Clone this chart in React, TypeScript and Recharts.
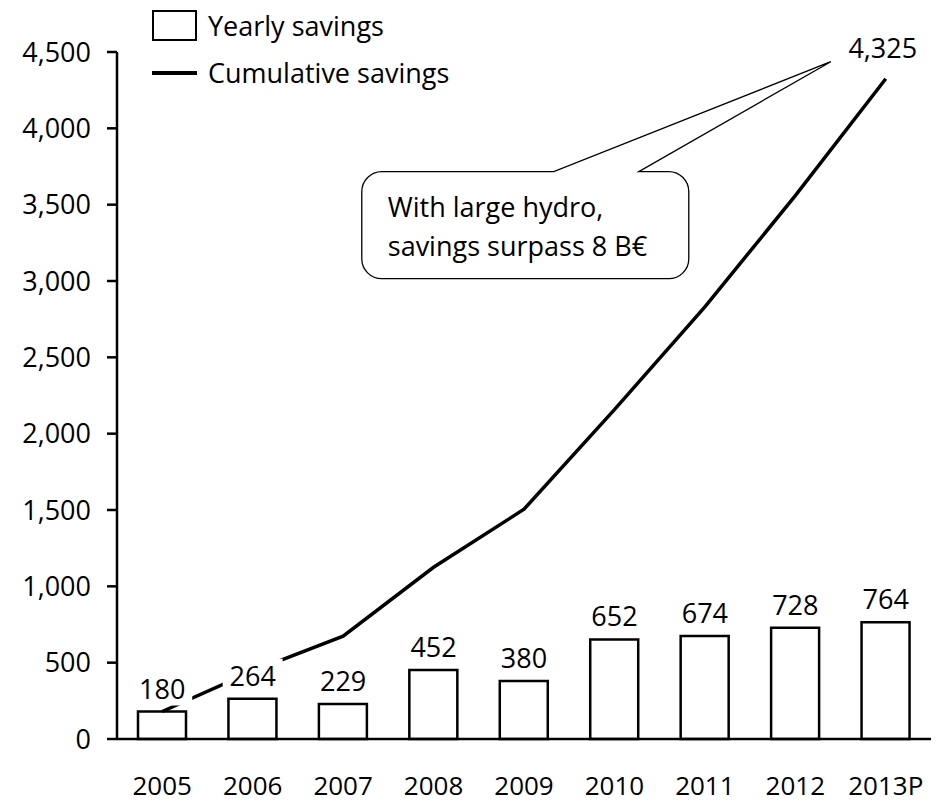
import { ComposedChart, Bar, Line, XAxis, YAxis, Legend, ReferenceDot } from "recharts";

const YEARS = ["2005", "2006", "2007", "2008", "2009", "2010", "2011", "2012", "2013P"];
const YEARLY_SAVINGS = [180, 264, 229, 452, 380, 652, 674, 728, 764];
const CUMULATIVE_SAVINGS = [180, 444, 673, 1125, 1505, 2157, 2831, 3559, 4325];
const Y_TICKS = [0, 500, 1000, 1500, 2000, 2500, 3000, 3500, 4000, 4500];
const CALLOUT_LINES = ["With large hydro,", "savings surpass 8 B€"];

const FONT = "'Open Sans', sans-serif";
const FONT_SIZE = 27;
const INK = "#000";

const data = YEARS.map((year, i) => ({
  year,
  yearly: YEARLY_SAVINGS[i],
  cumulative: CUMULATIVE_SAVINGS[i],
}));

const fmt = (v: number) => v.toLocaleString("en-US");

// value labels above the bars, on a white box so the line goes behind them
const renderBarLabel = (p: any) => {
  const { cx, cy, index, payload } = p;
  if (cx == null || cy == null) return <g key={`bl-${index}`} />;
  return (
    <g key={`bl-${index}`}>
      <rect x={cx - 30} y={cy - 40} width={60} height={34} fill="#fff" />
      <text
        x={cx}
        y={cy - 13}
        textAnchor="middle"
        fontFamily={FONT}
        fontSize={FONT_SIZE}
        fill={INK}
      >
        {fmt(payload.yearly)}
      </text>
    </g>
  );
};

// end-of-line value plus the rounded speech bubble pointing at it
const renderCallout = (p: any) => {
  const { cx, cy } = p;
  const L = cx - 524;
  const R = cx - 197;
  const T = cy + 93;
  const B = cy + 200;
  const r = 20;
  const tipX = cx - 55;
  const tipY = cy - 17;
  const w1 = cx - 332;
  const w2 = cx - 247;
  const d = [
    `M ${L + r} ${T}`,
    `L ${w1} ${T}`,
    `L ${tipX} ${tipY}`,
    `L ${w2} ${T}`,
    `L ${R - r} ${T}`,
    `A ${r} ${r} 0 0 1 ${R} ${T + r}`,
    `L ${R} ${B - r}`,
    `A ${r} ${r} 0 0 1 ${R - r} ${B}`,
    `L ${L + r} ${B}`,
    `A ${r} ${r} 0 0 1 ${L} ${B - r}`,
    `L ${L} ${T + r}`,
    `A ${r} ${r} 0 0 1 ${L + r} ${T}`,
    "Z",
  ].join(" ");
  return (
    <g>
      <text
        x={cx - 3}
        y={cy - 21}
        textAnchor="middle"
        fontFamily={FONT}
        fontSize={FONT_SIZE}
        fill={INK}
      >
        {fmt(CUMULATIVE_SAVINGS[CUMULATIVE_SAVINGS.length - 1])}
      </text>
      <path d={d} fill="#fff" stroke={INK} strokeWidth={1.3} />
      {CALLOUT_LINES.map((line, i) => (
        <text
          key={line}
          x={L + 26}
          y={cy + 138 + i * 39}
          fontFamily={FONT}
          fontSize={FONT_SIZE}
          fill={INK}
        >
          {line}
        </text>
      ))}
    </g>
  );
};

// boxes first, then the line entry
const renderLegend = (props: any) => {
  const items = (props.payload ?? [])
    .filter((e: any) => e.type !== "none")
    .sort((a: any, b: any) => (a.type === "line" ? 1 : 0) - (b.type === "line" ? 1 : 0));
  return (
    <div style={{ fontFamily: FONT, fontSize: FONT_SIZE, color: INK }}>
      {items.map((e: any) => (
        <div
          key={e.value}
          style={{ display: "flex", alignItems: "center", height: 47, whiteSpace: "nowrap" }}
        >
          {e.type === "line" ? (
            <div style={{ width: 45, height: 4, background: INK }} />
          ) : (
            <div
              style={{
                width: 45,
                height: 31,
                boxSizing: "border-box",
                border: `2px solid ${INK}`,
                background: "#fff",
              }}
            />
          )}
          <span style={{ marginLeft: 11 }}>{e.value}</span>
        </div>
      ))}
    </div>
  );
};

const renderXTick = (p: any) => (
  <text
    x={p.x}
    y={p.y + 56}
    textAnchor="middle"
    fontFamily={FONT}
    fontSize={26}
    fill={INK}
  >
    {p.payload.value}
  </text>
);

export default function App() {
  const lastYear = YEARS[YEARS.length - 1];
  const lastCumulative = CUMULATIVE_SAVINGS[CUMULATIVE_SAVINGS.length - 1];
  return (
    <div style={{ width: 942, height: 804, background: "#fff" }}>
      <style>{"body{margin:0}"}</style>
      <ComposedChart
        width={942}
        height={804}
        data={data}
        margin={{ top: 52, right: 11, bottom: 0, left: 0 }}
      >
        <XAxis
          dataKey="year"
          height={65}
          tickLine={false}
          tickSize={0}
          tickMargin={0}
          axisLine={{ stroke: INK, strokeWidth: 2.5 }}
          tick={renderXTick}
          interval={0}
        />
        <YAxis
          width={117}
          domain={[0, 4500]}
          ticks={Y_TICKS}
          tickSize={10}
          tickMargin={16}
          tickFormatter={fmt}
          axisLine={{ stroke: INK, strokeWidth: 2.5 }}
          tickLine={{ stroke: INK, strokeWidth: 2.5 }}
          tick={{ fill: INK, fontSize: FONT_SIZE, fontFamily: FONT }}
        />
        <Legend
          layout="horizontal"
          verticalAlign="middle"
          wrapperStyle={{ top: 2, left: 152, width: "auto" }}
          content={renderLegend}
        />
        <Bar
          dataKey="yearly"
          name="Yearly savings"
          legendType="square"
          barSize={48}
          fill="#fff"
          stroke={INK}
          strokeWidth={2.5}
          isAnimationActive={false}
        />
        <Line
          dataKey="cumulative"
          name="Cumulative savings"
          legendType="line"
          type="linear"
          stroke={INK}
          strokeWidth={3.5}
          dot={false}
          activeDot={false}
          isAnimationActive={false}
        />
        <Line
          dataKey="yearly"
          legendType="none"
          stroke="none"
          dot={renderBarLabel}
          activeDot={false}
          isAnimationActive={false}
        />
        <ReferenceDot
          x={lastYear}
          y={lastCumulative}
          ifOverflow="visible"
          shape={renderCallout}
        />
      </ComposedChart>
    </div>
  );
}
